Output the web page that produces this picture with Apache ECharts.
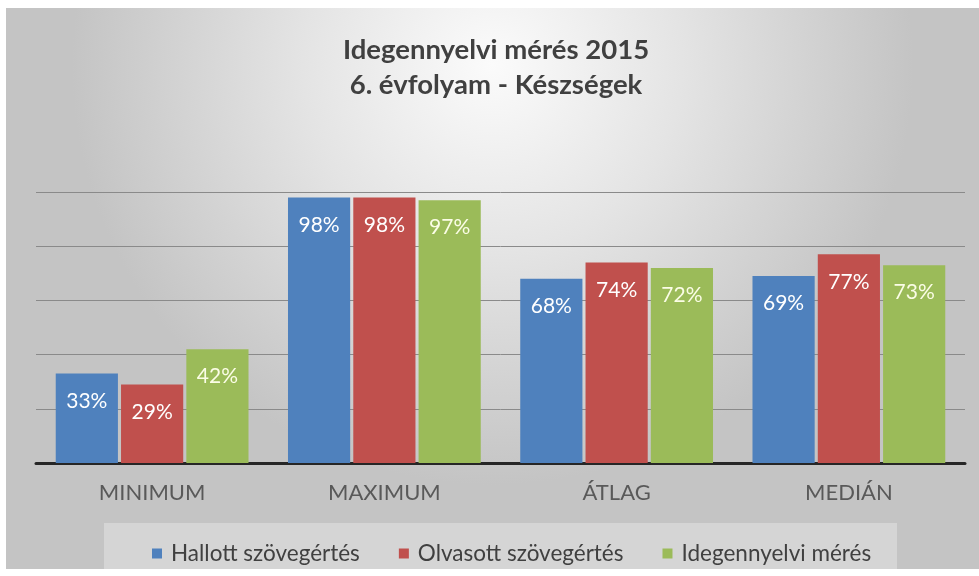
<!DOCTYPE html>
<html>
<head>
<meta charset="utf-8">
<script src="https://cdn.jsdelivr.net/npm/echarts@6/dist/echarts.min.js"></script>
<style>
  html, body { margin: 0; padding: 0; background: #fff; }
  #chart { width: 979px; height: 576px; }
</style>
</head>
<body>
<div id="chart"></div>
<script>
const categories = ['MINIMUM', 'MAXIMUM', 'ÁTLAG', 'MEDIÁN']
const seriesNames = ['Hallott szövegértés', 'Olvasott szövegértés', 'Idegennyelvi mérés']
const hallott = [33, 98, 68, 69]
const olvasott = [29, 98, 74, 77]
const idegen = [42, 97, 72, 73]
const colors = ['#4f81bd', '#c0504d', '#9bbb59']
const labelColors = ['#ffffff', '#ffffff', '#fbfde6']

const chart = echarts.init(document.getElementById('chart'))

const makeSeries = (name, data, i) => ({
  name,
  type: 'bar',
  data,
  barGap: '5%',
  barCategoryGap: '17%',
  itemStyle: { color: colors[i] },
  label: {
    show: true,
    position: 'insideTop',
    distance: 17,
    formatter: '{c}%',
    color: labelColors[i],
    fontFamily: 'Lato',
    fontSize: 21
  }
})

chart.setOption({
  animation: false,
  graphic: [
    { type: 'rect', z: -10, shape: { x: 0, y: 0, width: 979, height: 576 }, style: { fill: '#ffffff' } },
    {
      type: 'rect', z: -9,
      shape: { x: 6, y: 8, width: 973, height: 561 },
      style: {
        fill: new echarts.graphic.RadialGradient(0.5, 0.1, 0.75, [
          { offset: 0, color: '#fbfbfb' },
          { offset: 0.45, color: '#e4e4e4' },
          { offset: 1, color: '#c4c4c4' }
        ])
      }
    },
    { type: 'rect', z: -8, shape: { x: 104, y: 523, width: 793, height: 46 }, style: { fill: 'rgba(240,240,240,0.4)' } }
  ],
  title: {
    text: 'Idegennyelvi mérés 2015\n6. évfolyam - Készségek',
    left: 491,
    textAlign: 'center',
    top: 28,
    textStyle: {
      fontFamily: 'Lato',
      fontWeight: 'bold',
      fontSize: 27.5,
      lineHeight: 35,
      color: '#404040'
    }
  },
  legend: {
    data: seriesNames,
    left: 147,
    top: 537,
    icon: 'rect',
    itemWidth: 10,
    itemHeight: 10,
    itemGap: 39,
    textStyle: { fontFamily: 'Lato', fontSize: 22.5, color: '#404040', padding: [0, 0, 0, 4] }
  },
  grid: { left: 36, right: 14, top: 192, bottom: 113 },
  xAxis: {
    type: 'category',
    data: categories,
    axisLine: { lineStyle: { color: '#262626', width: 3 } },
    axisTick: { show: false },
    axisLabel: { fontFamily: 'Lato', fontSize: 22, color: '#595959', margin: 19 }
  },
  yAxis: {
    type: 'value',
    min: 0,
    max: 100,
    interval: 20,
    axisLine: { show: false },
    axisTick: { show: false },
    axisLabel: { show: false },
    splitLine: { lineStyle: { color: '#8a8a8a', width: 1 } }
  },
  series: [
    makeSeries(seriesNames[0], hallott, 0),
    makeSeries(seriesNames[1], olvasott, 1),
    makeSeries(seriesNames[2], idegen, 2)
  ]
})
</script>
</body>
</html>
